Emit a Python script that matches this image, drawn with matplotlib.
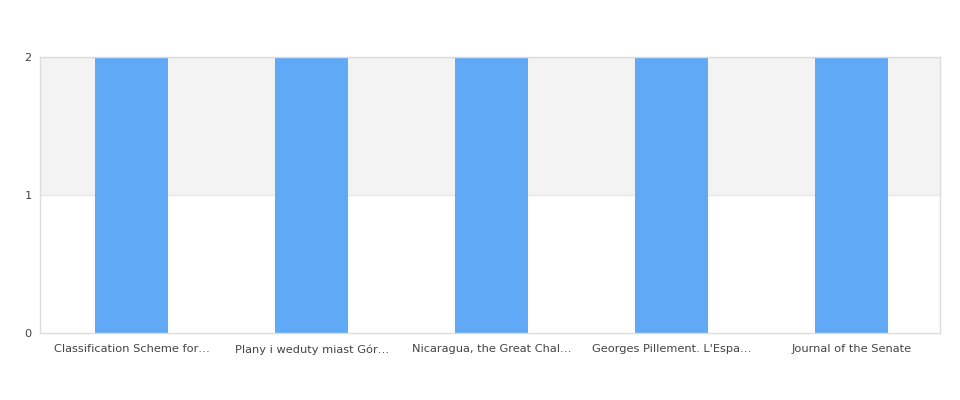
import matplotlib
matplotlib.use("Agg")
import matplotlib.pyplot as plt

titles = ["Classification Scheme for\u2026", "Plany i weduty miast G\u00f3r\u2026",
          "Nicaragua, the Great Chal\u2026", "Georges Pillement. L'Espa\u2026",
          "Journal of the Senate"]
counts = [2, 2, 2, 2, 2]
y_ticks = [0, 1, 2]

fig = plt.figure(figsize=(9.6, 4.0), dpi=100)
ax = fig.add_axes([40 / 960, 67 / 400, 900 / 960, 276 / 400])

xs = list(range(len(titles)))
ax.set_xlim(-0.51, len(titles) - 0.51)
ax.set_ylim(0, 2)

# alternating band between 1 and 2
ax.axhspan(1, 2, color="#f3f3f3", zorder=0, lw=0)
for t in y_ticks[1:]:
    ax.axhline(t, color="#e6e6e6", lw=1, zorder=1)

ax.bar(xs, counts, width=0.405, color="#60a9f6", zorder=2)

ax.set_xticks(xs)
ax.set_xticklabels(titles, fontsize=8.2, color="#444444")
ax.set_yticks(y_ticks)
ax.set_yticklabels([str(t) for t in y_ticks], fontsize=8.2, color="#444444")
ax.tick_params(axis="x", length=0, pad=8)
ax.tick_params(axis="y", length=0, pad=6)

for s in ax.spines.values():
    s.set_color("#dcdcdc")
    s.set_linewidth(1)

fig.savefig("out.png", dpi=100)
